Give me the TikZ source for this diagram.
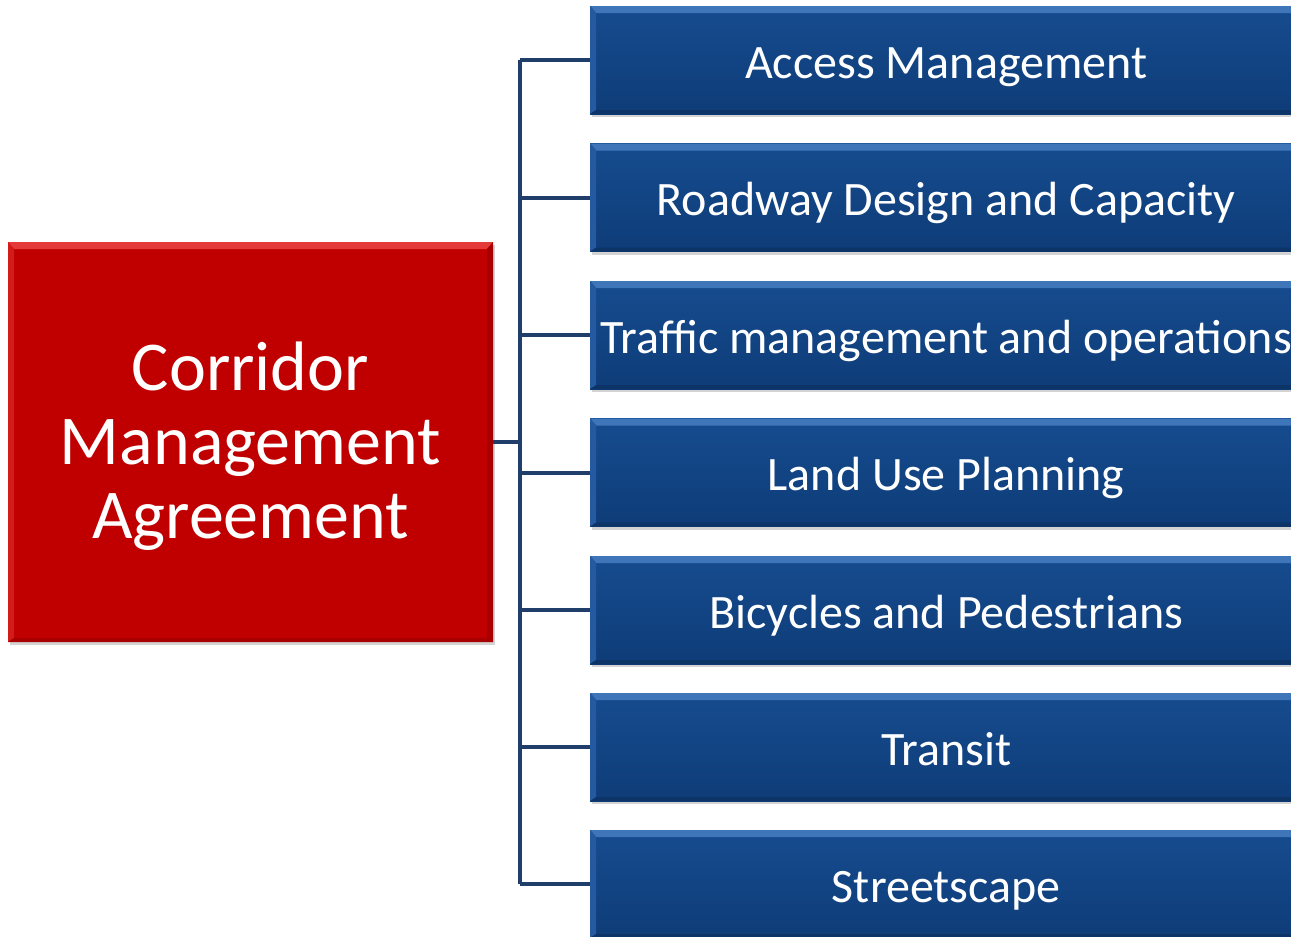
\documentclass[tikz,border=0pt]{standalone}
\usepackage{fontspec}
\setmainfont{Carlito}
\usetikzlibrary{shadows}
\definecolor{blueTop}{HTML}{164C8F}
\definecolor{blueBot}{HTML}{0E3C78}
\definecolor{blueHi}{HTML}{3F76BA}
\definecolor{blueLeft}{HTML}{2559A0}
\definecolor{blueDark}{HTML}{0C3466}
\definecolor{redMain}{HTML}{C00000}
\definecolor{redHi}{HTML}{E43A3A}
\definecolor{redLeft}{HTML}{D21C1C}
\definecolor{redDark}{HTML}{A80000}
\definecolor{connCol}{HTML}{1F3E6A}
\begin{document}
\begin{tikzpicture}[x=1pt,y=-1pt,
  bevel/.style n args={4}{path picture={
    \fill[#1] (path picture bounding box.north west) -- (path picture bounding box.north east)
      -- ([xshift=-6pt,yshift=-7pt]path picture bounding box.north east)
      -- ([xshift=6pt,yshift=-7pt]path picture bounding box.north west) -- cycle;
    \fill[#2] (path picture bounding box.north west) -- ([xshift=6pt,yshift=-7pt]path picture bounding box.north west)
      -- ([xshift=6pt,yshift=4pt]path picture bounding box.south west) -- (path picture bounding box.south west) -- cycle;
    \fill[#3] (path picture bounding box.south west) -- (path picture bounding box.south east)
      -- ([xshift=-6pt,yshift=4pt]path picture bounding box.south east)
      -- ([xshift=6pt,yshift=4pt]path picture bounding box.south west) -- cycle;
    \fill[#4] (path picture bounding box.north east) -- ([xshift=-6pt,yshift=-7pt]path picture bounding box.north east)
      -- ([xshift=-6pt,yshift=4pt]path picture bounding box.south east) -- (path picture bounding box.south east) -- cycle;
  }},
  item/.style={minimum width=712pt, minimum height=108pt, anchor=west, inner sep=0pt,
    text=white, font=\fontsize{48}{56}\selectfont, text height=36pt, text depth=0pt,
    top color=blueTop, bottom color=blueBot,
    bevel={blueHi}{blueLeft}{blueDark}{blueDark},
    drop shadow={shadow xshift=2pt, shadow yshift=-3pt, opacity=0.35}},
  mainbox/.style={minimum width=485pt, minimum height=400pt, inner sep=0pt,
    fill=redMain, bevel={redHi}{redLeft}{redDark}{redDark},
    drop shadow={shadow xshift=2pt, shadow yshift=-3pt, opacity=0.35}},
  maintext/.style={text=white, align=center, font=\fontsize{70}{74}\selectfont, inner sep=0pt},
  conn/.style={draw=connCol, line width=4pt}
]
\useasboundingbox (0,0) rectangle (1291,937);
\clip (0,0) rectangle (1291,937);
\coordinate (trunk) at (520,60);
\node[mainbox] (main) at (250.5,442) {};
\node[maintext] (maintitle) at ([yshift=-4pt]main.center) {Corridor\\Management\\Agreement};
\node[item] (i1) at (590,60) {Access Management};
\node[item] (i2) at (590,197.5) {Roadway Design and Capacity};
\node[item] (i3) at (590,335) {Traffic management and operations};
\node[item] (i4) at (590,472.5) {Land Use Planning};
\node[item] (i5) at (590,610) {Bicycles and Pedestrians};
\node[item] (i6) at (590,747) {Transit};
\node[item] (i7) at (590,884) {Streetscape};
\draw[conn] (i1.west -| trunk) -- (i7.west -| trunk);
\foreach \n in {i1,i2,i3,i4,i5,i6,i7}{
  \draw[conn] (\n.west) -- (\n.west -| trunk);
}
\draw[conn] (main.east) -- (main.east -| trunk);
\end{tikzpicture}
\end{document}
